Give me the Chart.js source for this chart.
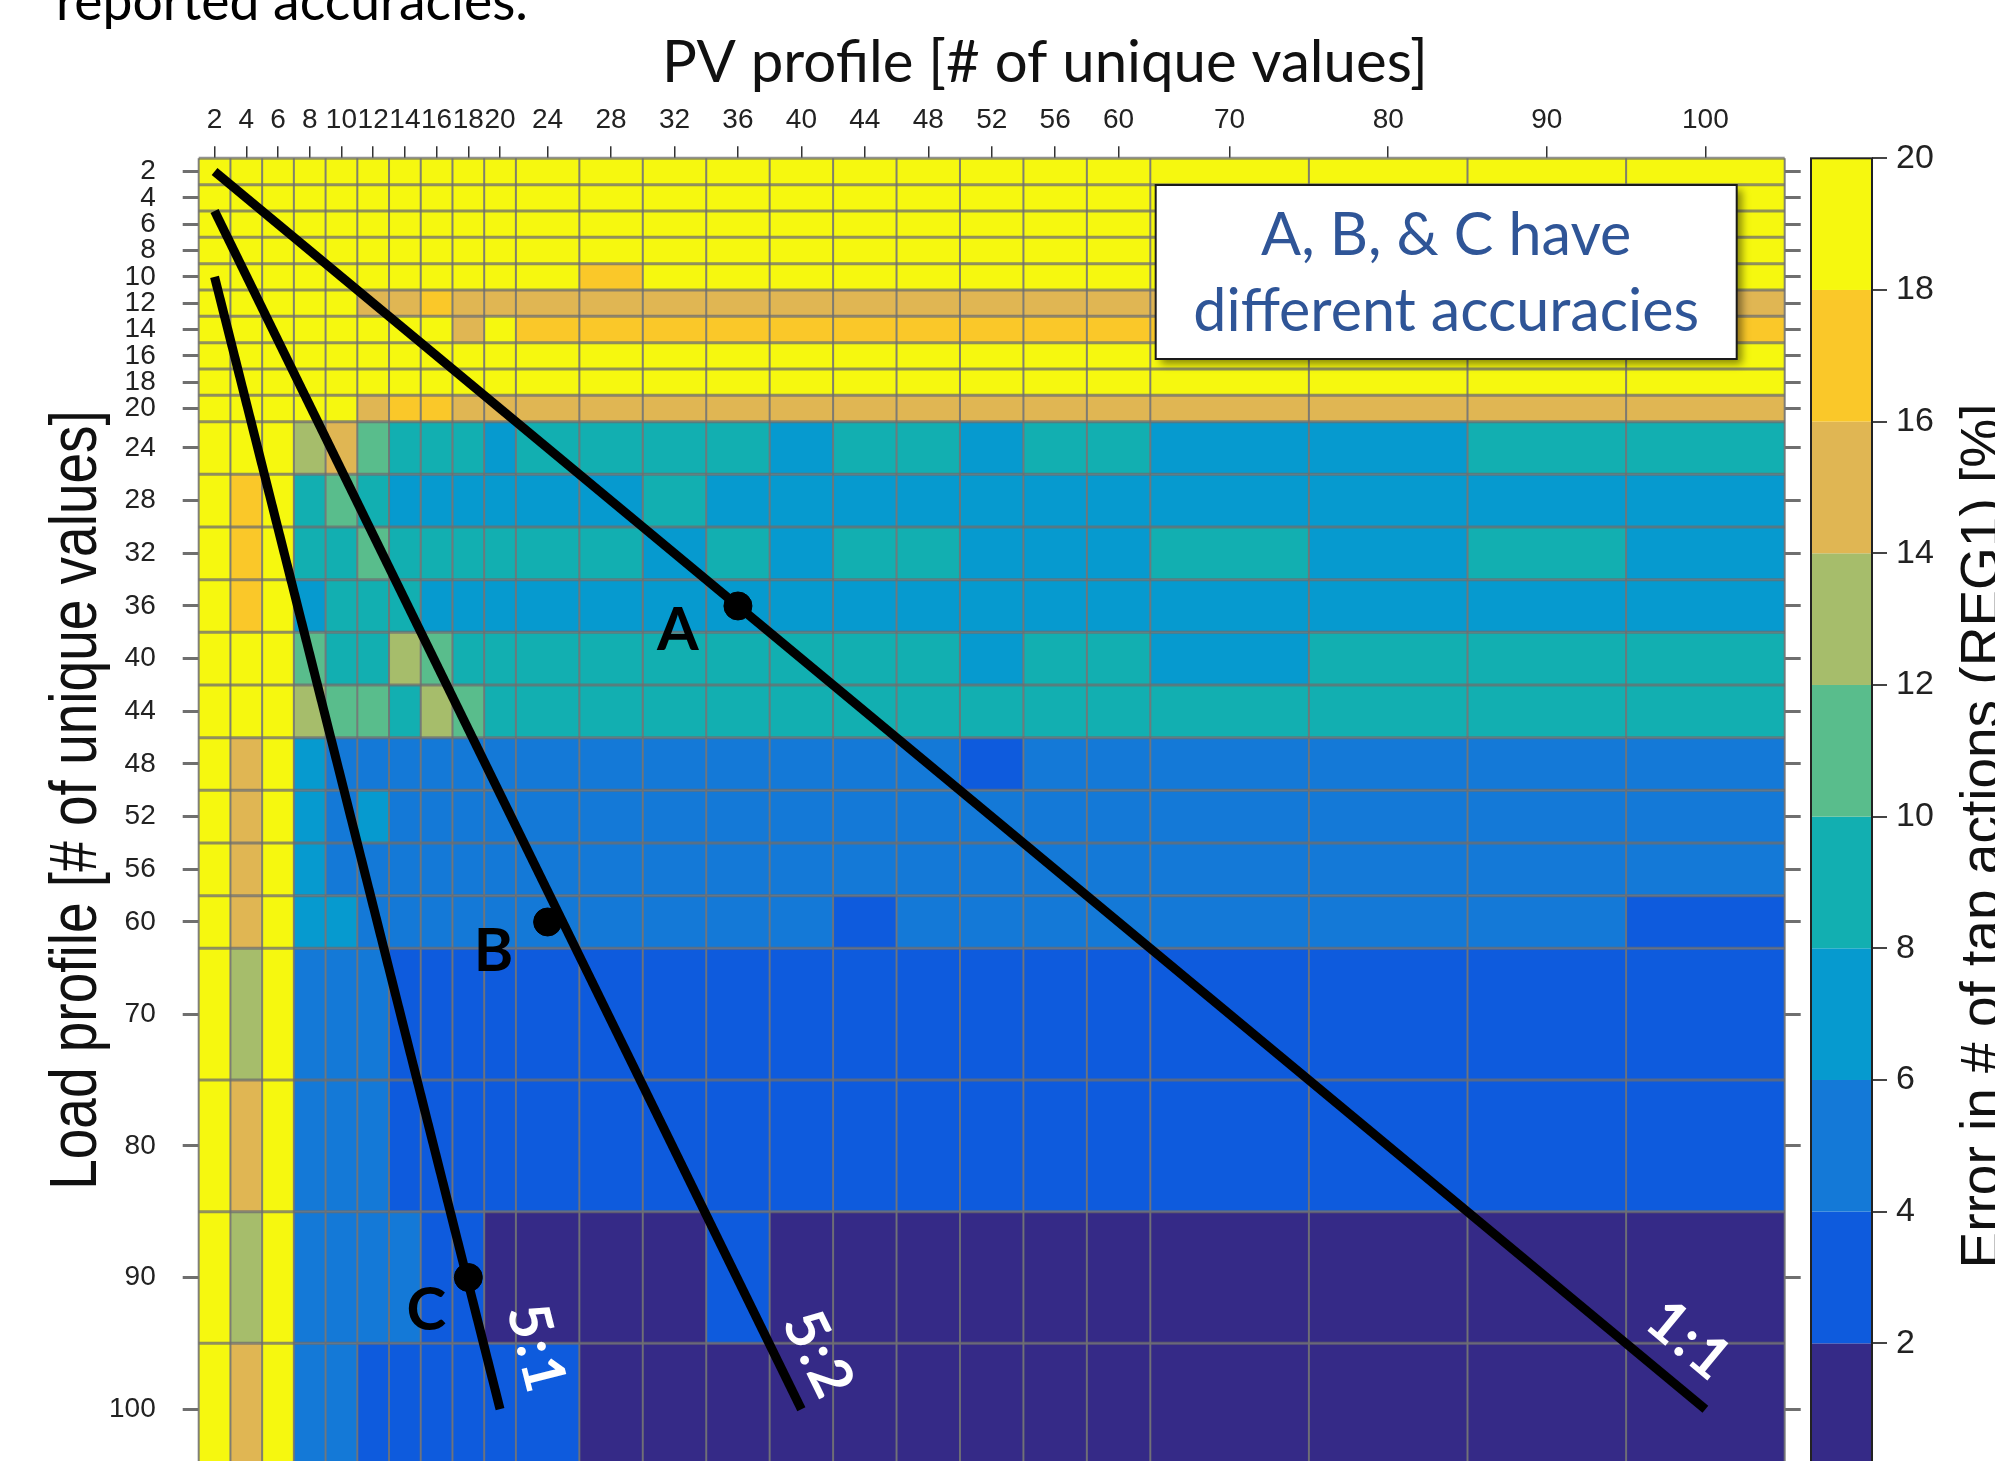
<!DOCTYPE html>
<html>
<head>
<meta charset="utf-8">
<title>Error vs PV and load profile resolution</title>
<script src="https://cdn.jsdelivr.net/npm/chart.js@4.4.1/dist/chart.umd.min.js"></script>
<style>
  html, body { margin: 0; padding: 0; background: #fff; overflow: hidden; }
  #wrap { width: 1995px; height: 1490px; }
</style>
</head>
<body>
<div id="wrap"><canvas id="chart" width="1995" height="1490"></canvas></div>
<script>
// PV profile (columns) and load profile (rows), # of unique values
var pvValues = [2, 4, 6, 8, 10, 12, 14, 16, 18, 20, 24, 28, 32, 36, 40, 44, 48, 52, 56, 60, 70, 80, 90, 100];
var loadValues = [2, 4, 6, 8, 10, 12, 14, 16, 18, 20, 24, 28, 32, 36, 40, 44, 48, 52, 56, 60, 70, 80, 90, 100];

// error in # of tap actions (REG1) [%], one row per load value
var errorRows = [
  [19,19,19,19,19,19,19,19,19,19,19,19,19,19,19,19,19,19,19,19,19,19,19,19],
  [19,19,19,19,19,19,19,19,19,19,19,19,19,19,19,19,19,19,19,19,19,19,19,19],
  [19,19,19,19,19,19,19,19,19,19,19,19,19,19,19,19,19,19,19,19,19,19,19,19],
  [19,19,19,19,19,19,19,19,19,19,19,19,19,19,19,19,19,19,19,19,19,19,19,19],
  [19,19,19,19,19,19,19,19,19,19,19,17,19,19,19,19,19,19,19,19,19,19,19,19],
  [19,19,19,19,19,15,15,17,15,15,15,15,15,15,15,15,15,15,15,15,15,15,15,15],
  [19,19,19,19,19,19,19,19,15,19,17,17,17,17,17,17,17,17,17,17,17,17,17,17],
  [19,19,19,19,19,19,19,19,19,19,19,19,19,19,19,19,19,19,19,19,19,19,19,19],
  [19,19,19,19,19,19,19,19,19,19,19,19,19,19,19,19,19,19,19,19,19,19,19,19],
  [19,19,19,19,19,15,17,17,15,15,15,15,15,15,15,15,15,15,15,15,15,15,15,15],
  [19,19,19,13,15,11, 9, 9, 9, 7, 9, 9, 9, 9, 7, 9, 9, 7, 9, 9, 7, 7, 9, 9],
  [19,17,19, 9,11, 9, 7, 7, 7, 7, 7, 7, 9, 7, 7, 7, 7, 7, 7, 7, 7, 7, 7, 7],
  [19,17,19, 9, 9,11, 9, 9, 9, 9, 9, 9, 7, 9, 7, 9, 9, 7, 7, 7, 9, 7, 9, 7],
  [19,17,19, 7, 9, 9, 9, 7, 7, 7, 7, 7, 7, 7, 7, 7, 7, 7, 7, 7, 7, 7, 7, 7],
  [19,19,19,11, 9, 9,13,11, 9, 9, 9, 9, 9, 9, 9, 9, 9, 7, 9, 9, 7, 9, 9, 9],
  [19,19,19,13,11,11, 9,13,11, 9, 9, 9, 9, 9, 9, 9, 9, 9, 9, 9, 9, 9, 9, 9],
  [19,15,19, 7, 5, 5, 5, 5, 5, 5, 5, 5, 5, 5, 5, 5, 5, 3, 5, 5, 5, 5, 5, 5],
  [19,15,19, 7, 5, 7, 5, 5, 5, 5, 5, 5, 5, 5, 5, 5, 5, 5, 5, 5, 5, 5, 5, 5],
  [19,15,19, 7, 5, 5, 5, 5, 5, 5, 5, 5, 5, 5, 5, 5, 5, 5, 5, 5, 5, 5, 5, 5],
  [19,15,19, 7, 7, 5, 5, 5, 5, 5, 5, 5, 5, 5, 5, 3, 5, 5, 5, 5, 5, 5, 5, 3],
  [19,13,19, 5, 5, 5, 3, 3, 3, 3, 3, 3, 3, 3, 3, 3, 3, 3, 3, 3, 3, 3, 3, 3],
  [19,15,19, 5, 5, 5, 3, 3, 3, 3, 3, 3, 3, 3, 3, 3, 3, 3, 3, 3, 3, 3, 3, 3],
  [19,13,19, 5, 5, 5, 5, 3, 3, 1, 1, 1, 1, 3, 1, 1, 1, 1, 1, 1, 1, 1, 1, 1],
  [19,15,19, 5, 5, 3, 3, 3, 3, 3, 3, 1, 1, 1, 1, 1, 1, 1, 1, 1, 1, 1, 1, 1]
];

// colour bar bins
var cbTicks = [0, 2, 4, 6, 8, 10, 12, 14, 16, 18, 20];
var cbColors = ['#352a87', '#0e5bdd', '#1479d7', '#069acf', '#12afb1', '#59bd8c', '#a6bd6b', '#e0b653', '#fac829', '#f6f80f'];

// PV : load ratio lines, start and end in profile values
var ratioNames = ['1:1', '5:2', '5:1'];
var ratioPv = [[2, 100], [2, 40], [2, 20]];
var ratioLoad = [[2, 100], [5, 100], [10, 100]];

// marked cases
var markNames = ['A', 'B', 'C'];
var markPv = [36, 24, 18];
var markLoad = [36, 60, 90];

// cell edges: each cell is as wide as the step to the previous value
function cellEdges(vals) {
  var e = [vals[0] - (vals[1] - vals[0]) / 2];
  for (var i = 0; i < vals.length; i++) {
    var w = i === 0 ? vals[1] - vals[0] : vals[i] - vals[i - 1];
    e.push(e[i] + w);
  }
  return e;
}
function cellCenters(edges) {
  var c = [];
  for (var i = 0; i < edges.length - 1; i++) c.push((edges[i] + edges[i + 1]) / 2);
  return c;
}
// profile value -> axis position (piecewise between cell centres)
function toAxis(v, vals, centers) {
  var i = 0;
  while (i < vals.length - 2 && v > vals[i + 1]) i++;
  return centers[i] + (v - vals[i]) * (centers[i + 1] - centers[i]) / (vals[i + 1] - vals[i]);
}
function colorFor(v) {
  var i = 0;
  while (i < cbColors.length - 1 && v >= cbTicks[i + 1]) i++;
  return cbColors[i];
}

var pvEdges = cellEdges(pvValues), pvCenters = cellCenters(pvEdges);
var loadEdges = cellEdges(loadValues), loadCenters = cellCenters(loadEdges);

var calibriLike = 'Lato, "Open Sans", sans-serif';
var arialLike = '"Liberation Sans", Arial, sans-serif';

function fitSize(ctx, text, weight, family, width) {
  ctx.font = weight + ' 100px ' + family;
  return 100 * width / ctx.measureText(text).width;
}
// keep the plot area fixed, labels may overhang
function noPad(axis) {
  axis.paddingTop = 0; axis.paddingBottom = 0; axis.paddingLeft = 0; axis.paddingRight = 0;
}

var heatCells = {
  id: 'heatCells',
  beforeDatasetsDraw: function(chart) {
    var ctx = chart.ctx, xs = chart.scales.x, ys = chart.scales.y, cb = chart.scales.cb;
    var area = chart.chartArea;
    ctx.save();
    errorRows.forEach(function(row, r) {
      var y0 = ys.getPixelForValue(loadEdges[r]), y1 = ys.getPixelForValue(loadEdges[r + 1]);
      row.forEach(function(v, c) {
        var x0 = xs.getPixelForValue(pvEdges[c]), x1 = xs.getPixelForValue(pvEdges[c + 1]);
        ctx.fillStyle = colorFor(v);
        ctx.fillRect(x0, y0, x1 - x0, y1 - y0);
      });
    });
    // cell borders
    ctx.strokeStyle = 'rgba(115,115,115,0.9)';
    ctx.lineWidth = 2;
    pvEdges.forEach(function(e) {
      var x = xs.getPixelForValue(e);
      ctx.beginPath(); ctx.moveTo(x, area.top); ctx.lineTo(x, area.bottom); ctx.stroke();
    });
    ctx.strokeStyle = 'rgba(110,110,110,0.75)';
    ctx.lineWidth = 3;
    loadEdges.forEach(function(e) {
      var y = ys.getPixelForValue(e);
      ctx.beginPath(); ctx.moveTo(area.left, y); ctx.lineTo(area.right, y); ctx.stroke();
    });

    // colour bar
    var barW = 61, bx = cb.left - barW;
    for (var i = 0; i < cbColors.length; i++) {
      var t = cb.getPixelForValue(cbTicks[i + 1]), b = cb.getPixelForValue(cbTicks[i]);
      ctx.fillStyle = cbColors[i];
      ctx.fillRect(bx, t, barW, b - t);
    }
    ctx.strokeStyle = '#222';
    ctx.lineWidth = 2;
    ctx.strokeRect(bx, cb.getPixelForValue(20), barW, cb.getPixelForValue(0) - cb.getPixelForValue(20));
    ctx.restore();
  },
  afterDatasetsDraw: function(chart) {
    var ctx = chart.ctx, xs = chart.scales.x, ys = chart.scales.y, area = chart.chartArea;
    ctx.save();

    // ratio labels along the lines
    var ratioOffsets = [[-16, -68], [17, -54], [36, -60]];
    ratioNames.forEach(function(name, k) {
      var xa = xs.getPixelForValue(toAxis(ratioPv[k][0], pvValues, pvCenters));
      var ya = ys.getPixelForValue(toAxis(ratioLoad[k][0], loadValues, loadCenters));
      var xb = xs.getPixelForValue(toAxis(ratioPv[k][1], pvValues, pvCenters));
      var yb = ys.getPixelForValue(toAxis(ratioLoad[k][1], loadValues, loadCenters));
      var ang = Math.atan2(yb - ya, xb - xa);
      ctx.save();
      ctx.translate(xb + ratioOffsets[k][0], yb + ratioOffsets[k][1]);
      ctx.rotate(ang);
      ctx.fillStyle = '#ffffff';
      ctx.font = 'bold 58px ' + calibriLike;
      ctx.letterSpacing = '3px';
      ctx.textAlign = 'center';
      ctx.textBaseline = 'middle';
      ctx.fillText(name, 0, 0);
      ctx.restore();
    });

    // A, B, C labels
    var markOffsets = [[-60, 25], [-54, 30], [-42, 33]];
    ctx.fillStyle = '#000';
    ctx.font = 'bold 60px ' + calibriLike;
    ctx.textAlign = 'center';
    ctx.textBaseline = 'middle';
    markNames.forEach(function(name, k) {
      var x = xs.getPixelForValue(toAxis(markPv[k], pvValues, pvCenters));
      var y = ys.getPixelForValue(toAxis(markLoad[k], loadValues, loadCenters));
      ctx.fillText(name, x + markOffsets[k][0], y + markOffsets[k][1]);
    });

    // note box
    var bx = area.right - 629, by = 185, bw = 581, bh = 174;
    ctx.save();
    ctx.shadowColor = 'rgba(0,0,0,0.45)';
    ctx.shadowBlur = 8;
    ctx.shadowOffsetX = 5;
    ctx.shadowOffsetY = 5;
    ctx.fillStyle = '#ffffff';
    ctx.fillRect(bx, by, bw, bh);
    ctx.restore();
    ctx.strokeStyle = '#1a1a1a';
    ctx.lineWidth = 2;
    ctx.strokeRect(bx, by, bw, bh);
    var fs = fitSize(ctx, 'different accuracies', 'normal', calibriLike, 506);
    ctx.font = 'normal ' + fs + 'px ' + calibriLike;
    ctx.fillStyle = '#2f5597';
    ctx.textAlign = 'center';
    ctx.textBaseline = 'alphabetic';
    ctx.fillText('A, B, & C have', bx + bw / 2, 255);
    ctx.fillText('different accuracies', bx + bw / 2, 331);

    // axis titles
    ctx.fillStyle = '#111';
    fs = fitSize(ctx, 'PV profile [# of unique values]', 'normal', calibriLike, 766);
    ctx.font = 'normal ' + fs + 'px ' + calibriLike;
    ctx.textAlign = 'center';
    ctx.fillText('PV profile [# of unique values]', 1045, 82);

    ctx.save();
    ctx.translate(96, 800);
    ctx.scale(1.2, 1);
    ctx.rotate(-Math.PI / 2);
    ctx.font = 'normal 55px ' + arialLike;
    ctx.fillText('Load profile [# of unique values]', 0, 0);
    ctx.restore();

    ctx.save();
    ctx.translate(1999, 836);
    ctx.rotate(-Math.PI / 2);
    ctx.font = 'normal 55px ' + arialLike;
    ctx.fillText('Error in # of tap actions (REG1) [%]', 0, 0);
    ctx.restore();

    // slide title, cut off at the top
    ctx.textAlign = 'left';
    fs = fitSize(ctx, 'reported accuracies.', 'normal', calibriLike, 472);
    ctx.font = 'normal ' + fs + 'px ' + calibriLike;
    ctx.fillStyle = '#000';
    ctx.fillText('reported accuracies.', 56, 20);

    ctx.restore();
  }
};

var datasets = ratioNames.map(function(name, k) {
  return {
    label: name,
    type: 'line',
    data: ratioPv[k].map(function(pv, j) {
      return { x: toAxis(pv, pvValues, pvCenters), y: toAxis(ratioLoad[k][j], loadValues, loadCenters) };
    }),
    borderColor: '#000',
    borderWidth: 9,
    borderCapStyle: 'butt',
    pointRadius: 0,
    showLine: true,
    fill: false
  };
});
datasets.push({
  label: 'cases',
  data: markNames.map(function(n, k) {
    return { x: toAxis(markPv[k], pvValues, pvCenters), y: toAxis(markLoad[k], loadValues, loadCenters) };
  }),
  backgroundColor: '#000',
  borderColor: '#000',
  pointRadius: 14
});

var tickFont = { family: arialLike, size: 28 };

var myChart = new Chart(document.getElementById('chart'), {
  type: 'scatter',
  data: { datasets: datasets },
  options: {
    responsive: false,
    animation: false,
    devicePixelRatio: 1,
    layout: { padding: { top: 0, left: 0, right: 0, bottom: 14.7 } },
    plugins: { legend: { display: false }, tooltip: { enabled: false } },
    scales: {
      x: {
        type: 'linear', position: 'top',
        min: pvEdges[0], max: pvEdges[pvEdges.length - 1],
        afterBuildTicks: function(axis) { axis.ticks = pvCenters.map(function(v) { return { value: v }; }); },
        afterFit: function(axis) { axis.height = 158.3; noPad(axis); },
        ticks: {
          autoSkip: false, maxRotation: 0, minRotation: 0, padding: 9, color: '#222', font: tickFont,
          callback: function(v, i) { return pvValues[i]; }
        },
        grid: { drawOnChartArea: false, tickLength: 12, color: '#333', lineWidth: 1.5 },
        border: { display: false }
      },
      y: {
        type: 'linear', position: 'left', reverse: true, weight: 0,
        min: loadEdges[0], max: loadEdges[loadEdges.length - 1],
        afterBuildTicks: function(axis) { axis.ticks = loadCenters.map(function(v) { return { value: v }; }); },
        afterFit: function(axis) { axis.width = 198.7; noPad(axis); },
        ticks: {
          autoSkip: false, padding: 27, color: '#222', font: tickFont,
          callback: function(v, i) { return loadValues[i]; }
        },
        grid: { drawOnChartArea: false, tickLength: 16, color: '#6f6f6f', lineWidth: 3 },
        border: { display: false }
      },
      y2: {
        type: 'linear', position: 'right', reverse: true, weight: 0,
        min: loadEdges[0], max: loadEdges[loadEdges.length - 1],
        afterBuildTicks: function(axis) { axis.ticks = loadCenters.map(function(v) { return { value: v }; }); },
        afterFit: function(axis) { axis.width = 87.3; noPad(axis); },
        ticks: { display: false, autoSkip: false },
        grid: { drawOnChartArea: false, tickLength: 16, color: '#6f6f6f', lineWidth: 3 },
        border: { display: false }
      },
      cb: {
        type: 'linear', position: 'right', weight: 1,
        min: 0, max: 20,
        afterBuildTicks: function(axis) { axis.ticks = cbTicks.slice(1).map(function(v) { return { value: v }; }); },
        afterFit: function(axis) { axis.width = 123; noPad(axis); },
        ticks: { padding: 9, color: '#222', font: { family: arialLike, size: 34 } },
        grid: { drawOnChartArea: false, tickLength: 15, color: '#444', lineWidth: 2 },
        border: { display: false }
      }
    }
  },
  plugins: [heatCells]
});
</script>
</body>
</html>
